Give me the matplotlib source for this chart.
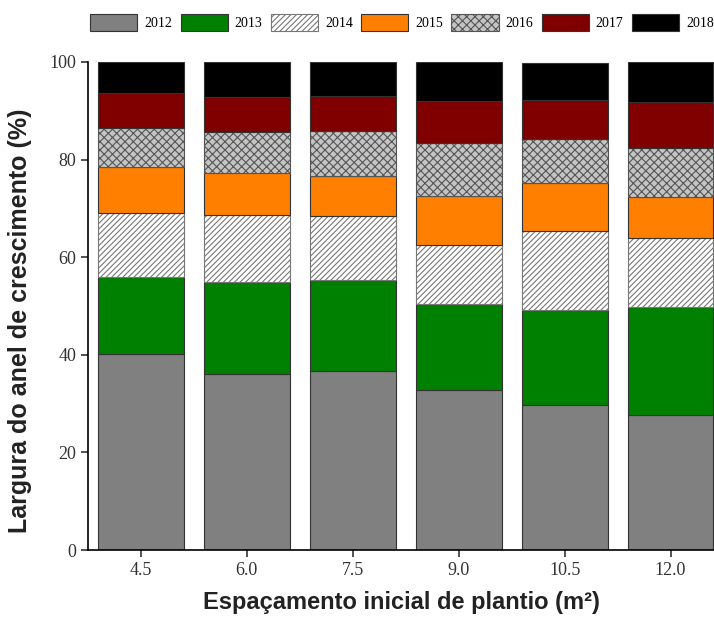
import numpy as np
import matplotlib
matplotlib.use("Agg")
import matplotlib.pyplot as plt
from matplotlib.patches import Patch

# ================ Data ================
spacings = ["4.5", "6.0", "7.5", "9.0", "10.5", "12.0"]
years = ["2012", "2013", "2014", "2015", "2016", "2017", "2018"]

y2012 = [40.1, 36.1, 36.7, 32.8, 29.7, 27.6]
y2013 = [15.9, 18.8, 18.6, 17.6, 19.4, 22.1]
y2014 = [13.0, 13.8, 13.2, 12.1, 16.3, 14.2]
y2015 = [9.4, 8.5, 8.1, 10.0, 9.7, 8.5]
y2016 = [8.1, 8.4, 9.3, 11.0, 9.1, 10.0]
y2017 = [7.1, 7.2, 7.1, 8.5, 8.0, 9.4]
y2018 = [6.4, 7.2, 7.0, 8.0, 7.5, 8.2]

series = [y2012, y2013, y2014, y2015, y2016, y2017, y2018]

# ================ Styles ================
faces = ["#808080", "#008000", "white", "#ff8000", "#c4c4c4", "#800000", "black"]
hatches = [None, None, "//////", None, "xxxx", None, None]
edges = ["#333333", "#333333", "#777777", "#333333", "#555555", "#333333", "#333333"]

plt.rcParams["hatch.linewidth"] = 0.8

fig = plt.figure(figsize=(7.14, 6.21), dpi=100)
ax = fig.add_axes([0.1232, 0.1143, 0.8768, 0.7859])

x = np.arange(len(spacings))
bottom = np.zeros(len(spacings))
for vals, fc, h, ec in zip(series, faces, hatches, edges):
    ax.bar(x, vals, width=0.81, bottom=bottom, color=fc, hatch=h,
           edgecolor=ec, linewidth=0.8)
    bottom += np.array(vals)

ax.set_xlim(-0.5, 5.41)
ax.set_ylim(0, 100)
ax.set_xticks(x)
ax.set_xticklabels(spacings)
ax.set_yticks([0, 20, 40, 60, 80, 100])

for lbl in ax.get_xticklabels() + ax.get_yticklabels():
    lbl.set_fontfamily("Liberation Serif")
    lbl.set_fontsize(13)
    lbl.set_color("#333333")

ax.tick_params(direction="out", length=5, width=1.2, color="#333333")
ax.spines["top"].set_visible(False)
ax.spines["right"].set_visible(False)
ax.spines["left"].set_linewidth(1.2)
ax.spines["bottom"].set_linewidth(1.2)

ax.set_ylabel("Largura do anel de crescimento (%)", fontsize=18,
              fontweight="bold", family="Liberation Sans", color="#222222")
ax.yaxis.set_label_coords(-0.09, 0.469)
ax.set_xlabel("Espaçamento inicial de plantio (m²)", fontsize=17,
              fontweight="bold", family="Liberation Sans", color="#222222",
              labelpad=9)

handles = [Patch(facecolor=fc, hatch=h, edgecolor=ec, linewidth=0.8)
           for fc, h, ec in zip(faces, hatches, edges)]
fig.legend(handles, years, loc="center", bbox_to_anchor=(0.563, 0.964),
           ncol=7, frameon=False, handlelength=3.4, handleheight=1.45,
           handletextpad=0.5, columnspacing=0.6, borderpad=0.2,
           prop={"family": "Liberation Serif", "size": 10})

fig.savefig("out.png", dpi=100)
